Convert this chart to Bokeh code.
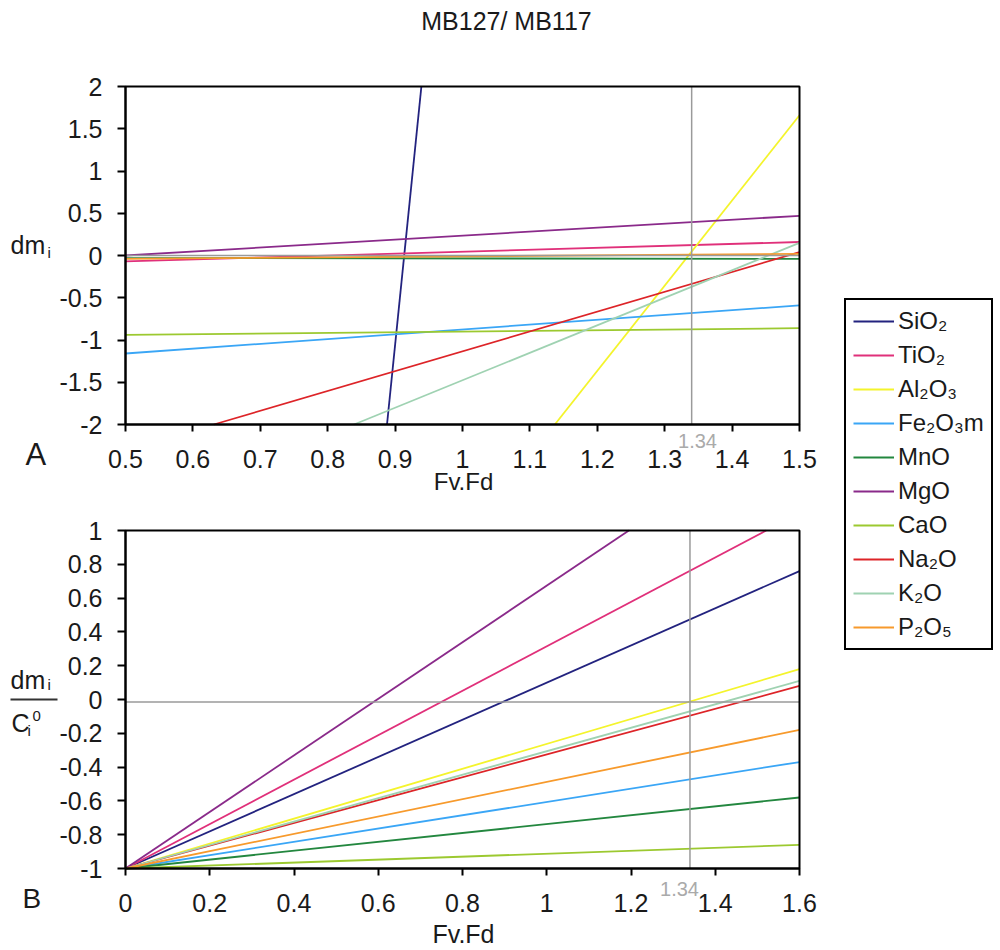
from bokeh.plotting import figure
from bokeh.models import (Range1d, FixedTicker, Label, Legend, LegendItem, Arrow, LinearAxis)
from bokeh.embed import file_html
from bokeh.resources import INLINE

# ---------------- data ----------------
OXIDES = ["SiO₂", "TiO₂", "Al₂O₃", "Fe₂O₃m", "MnO", "MgO", "CaO", "Na₂O", "K₂O", "P₂O₅"]
COLORS = ["#23237f", "#e0307a", "#f4f42c", "#3aa6f6", "#23873f", "#8a2a8a",
          "#9cc930", "#dd2428", "#9fd2b2", "#f79a2c"]

# Panel A: dm_i vs Fv.Fd (visible segment end points)
A_X0 = [0.888, 0.5, 1.137, 0.5, 0.5, 0.5, 0.5, 0.631, 0.839, 0.5]
A_Y0 = [-2.0, -0.07, -2.0, -1.16, -0.03, 0.0, -0.94, -2.0, -2.0, -0.04]
A_X1 = [0.939, 1.5, 1.5, 1.5, 1.5, 1.5, 1.5, 1.5, 1.5, 1.5]
A_Y1 = [2.0, 0.16, 1.66, -0.59, -0.04, 0.47, -0.86, 0.04, 0.15, 0.02]

# Panel B: dm_i / C_i^0 vs Fv.Fd (all start at (0,-1))
B_X0 = [0, 0, 0, 0, 0, 0, 0, 0, 0, 0]
B_Y0 = [-1, -1, -1, -1, -1, -1, -1, -1, -1, -1]
B_X1 = [1.6, 1.521, 1.6, 1.6, 1.6, 1.195, 1.6, 1.6, 1.6, 1.6]
B_Y1 = [0.76, 1.0, 0.18, -0.37, -0.58, 1.0, -0.86, 0.08, 0.11, -0.18]

FVFD = 1.34
A_HLINE = 0.0
B_HLINE = -0.015

A_XLIM = (0.5, 1.5)
A_YLIM = (-2, 2)
B_XLIM = (0, 1.6)
B_YLIM = (-1, 1)

A_XTICKS = [0.5, 0.6, 0.7, 0.8, 0.9, 1, 1.1, 1.2, 1.3, 1.4, 1.5]
A_XLABELS = ["0.5", "0.6", "0.7", "0.8", "0.9", "1", "1.1", "1.2", "1.3", "1.4", "1.5"]
A_YTICKS = [-2, -1.5, -1, -0.5, 0, 0.5, 1, 1.5, 2]
A_YLABELS = ["-2", "-1.5", "-1", "-0.5", "0", "0.5", "1", "1.5", "2"]
B_XTICKS = [0, 0.2, 0.4, 0.6, 0.8, 1, 1.2, 1.4, 1.6]
B_XLABELS = ["0", "0.2", "0.4", "0.6", "0.8", "1", "1.2", "1.4", "1.6"]
B_YTICKS = [-1, -0.8, -0.6, -0.4, -0.2, 0, 0.2, 0.4, 0.6, 0.8, 1]
B_YLABELS = ["-1", "-0.8", "-0.6", "-0.4", "-0.2", "0", "0.2", "0.4", "0.6", "0.8", "1"]

FONT = "Liberation Sans"
TXT = "#1a1a1a"
GRAY = "#9a9a9a"

# ---------------- layout geometry (page pixels) ----------------
W, H = 1000, 950
FL, FR = 125, 799          # both panels share left/right frame edges
A_T, A_B = 86, 424
B_T, B_B = 530, 868


def span_range(lo, hi, p_lo, p_hi, total):
    """Range such that data lo..hi maps to pixels p_lo..p_hi of a 0..total canvas."""
    k = (hi - lo) / (p_hi - p_lo)
    return Range1d(lo - p_lo * k, hi + (total - p_hi) * k)


def span_range_y(lo, hi, p_top, p_bot, total):
    k = (hi - lo) / (p_bot - p_top)
    return Range1d(lo - (total - p_bot) * k, hi + p_top * k)


p = figure(width=W, height=H, min_border=0,
           x_range=Range1d(0, W), y_range=Range1d(H, 0),
           x_axis_location=None, y_axis_location=None,
           output_backend="svg", toolbar_location=None, tools="")
p.grid.visible = False
p.outline_line_color = None
p.background_fill_color = "white"
p.border_fill_color = "white"

p.extra_x_ranges = {"ax": span_range(*A_XLIM, FL, FR, W), "bx": span_range(*B_XLIM, FL, FR, W)}
p.extra_y_ranges = {"ay": span_range_y(*A_YLIM, A_T, A_B, H), "by": span_range_y(*B_YLIM, B_T, B_B, H)}


def style_axis(a, tick_out):
    a.axis_line_color = "black"
    a.axis_line_width = 2
    a.major_tick_line_color = "black"
    a.major_tick_line_width = 2
    a.major_tick_in = 0
    a.major_tick_out = tick_out
    a.minor_tick_line_color = None
    a.major_label_text_font = FONT
    a.major_label_text_font_size = "25px"
    a.major_label_text_color = TXT


def panel(xn, yn, xlim, ylim, xticks, xlabels, yticks, ylabels,
          x0, y0, x1, y1, hline):
    xa = LinearAxis(x_range_name=xn, y_range_name=yn, fixed_location=ylim[0], bounds=xlim,
                    ticker=FixedTicker(ticks=xticks),
                    major_label_overrides=dict(zip(xticks, xlabels)))
    style_axis(xa, 7)
    xa.major_label_standoff = 18
    p.add_layout(xa, "below")
    ya = LinearAxis(x_range_name=xn, y_range_name=yn, fixed_location=xlim[0], bounds=ylim,
                    ticker=FixedTicker(ticks=yticks),
                    major_label_overrides=dict(zip(yticks, ylabels)))
    style_axis(ya, 8)
    ya.major_label_standoff = 15
    p.add_layout(ya, "left")
    rs = []
    for i in range(len(OXIDES)):
        rs.append(p.line([x0[i], x1[i]], [y0[i], y1[i]], line_color=COLORS[i], line_width=1.8,
                         x_range_name=xn, y_range_name=yn))
    # reference lines
    p.segment(x0=[FVFD, xlim[0]], y0=[ylim[0], hline], x1=[FVFD, xlim[1]], y1=[ylim[1], hline],
              line_color=GRAY, line_width=1.5, x_range_name=xn, y_range_name=yn)
    # frame box
    p.quad(left=[xlim[0]], right=[xlim[1]], bottom=[ylim[0]], top=[ylim[1]],
           fill_color=None, line_color="black", line_width=2,
           x_range_name=xn, y_range_name=yn)
    return rs


rA = panel("ax", "ay", A_XLIM, A_YLIM, A_XTICKS, A_XLABELS, A_YTICKS, A_YLABELS,
           A_X0, A_Y0, A_X1, A_Y1, A_HLINE)
rB = panel("bx", "by", B_XLIM, B_YLIM, B_XTICKS, B_XLABELS, B_YTICKS, B_YLABELS,
           B_X0, B_Y0, B_X1, B_Y1, B_HLINE)


def lab(x, y, text, size, align="left", color=TXT):
    p.add_layout(Label(x=x, y=y, text=text, text_font=FONT, text_font_size=size,
                       text_color=color, text_align=align, text_baseline="middle"))


# texts (pixel positions on the page, vertical centre of the glyphs)
lab(506, 20, "MB127/ MB117", "25px", align="center")
lab(10, 244, "dm", "25px")
lab(47, 252, "i", "15px")
lab(25, 454, "A", "31px")
lab(697, 440, "1.34", "20px", align="center", color="#aaaaaa")
lab(463, 481, "Fv.Fd", "24px", align="center")

lab(10, 679, "dm", "25px")
lab(47, 684, "i", "15px")
p.add_layout(Arrow(end=None, x_start=10, y_start=699, x_end=57, y_end=699,
                   line_color="#333333", line_width=2))
lab(11, 722, "C", "25px")
lab(27, 730, "i", "15px")
lab(32, 715, "0", "15px")
lab(22, 898, "B", "28px")
lab(679, 888, "1.34", "20px", align="center", color="#aaaaaa")
lab(463, 933, "Fv.Fd", "25px", align="center")

# ---------------- legend ----------------
items = [LegendItem(label=OXIDES[i], renderers=[rA[i]]) for i in range(len(OXIDES))]
leg = Legend(items=items, location=(844, H - 650), label_text_font=FONT,
             label_text_font_size="24px", label_text_color=TXT,
             glyph_width=41, glyph_height=28, label_height=28, label_standoff=4,
             spacing=6, padding=7, margin=0,
             border_line_color="black", border_line_width=2, border_line_alpha=1,
             background_fill_color="white", background_fill_alpha=1)
p.add_layout(leg, "center")

open("out.html", "w").write(file_html(p, INLINE))
